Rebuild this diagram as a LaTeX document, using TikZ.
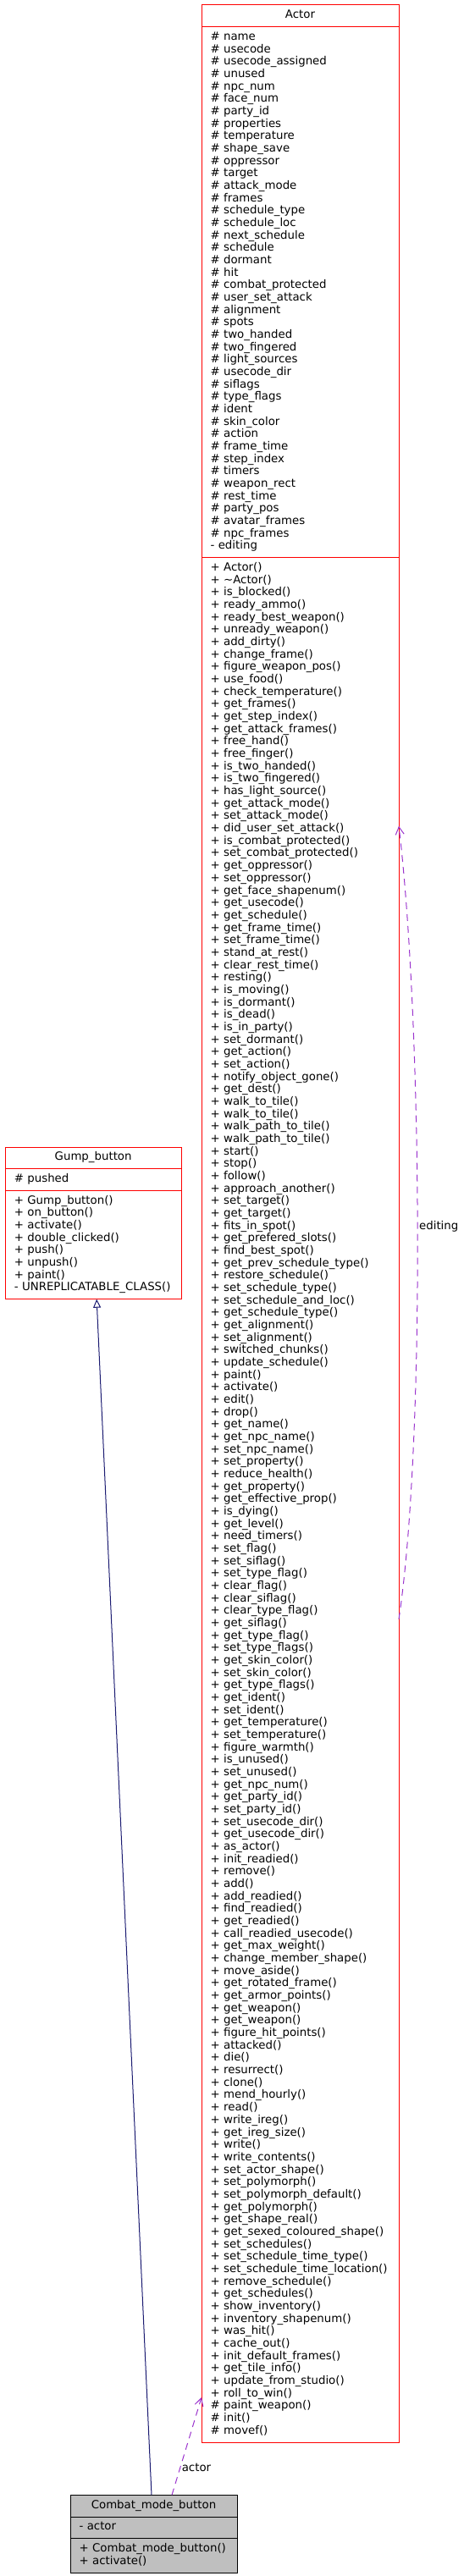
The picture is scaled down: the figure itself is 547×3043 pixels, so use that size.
\documentclass[tikz,border=0pt]{standalone}
\usepackage{fontspec}
\setmainfont{DejaVu Sans}
\usetikzlibrary{arrows.meta,positioning}
\definecolor{umlRed}{HTML}{FF0000}
\definecolor{inheritBlue}{HTML}{191970}
\definecolor{usagePurple}{HTML}{9A32CD}
\definecolor{focusGray}{HTML}{BFBFBF}
\tikzset{
  umlpart/.style={draw=umlRed,line width=1pt,fill=white,outer sep=0pt,
    inner xsep=10.5pt,inner ysep=5.5pt,align=left,
    font=\fontsize{13.33}{14.67}\selectfont},
  umltitle/.style={umlpart,align=center},
  focuspart/.style={umlpart,draw=black,fill=focusGray},
  focustitle/.style={focuspart,align=center},
  inherit/.style={draw=inheritBlue,line width=1pt,-{Triangle[open,length=10pt,width=9pt,fill=white]}},
  usage/.style={draw=usagePurple,line width=1pt,dash pattern=on 8pt off 6pt,
    -{Straight Barb[length=9pt,width=10pt]}},
  edgelabel/.style={text=black,inner sep=1.5pt,font=\fontsize{13.33}{14.67}\selectfont}
}

\begin{document}
\begin{tikzpicture}[x=1pt,y=-1pt]
  \useasboundingbox (0,0) rectangle (547,3043);

  % Actor
  \node[umltitle,text width=212pt,anchor=north west] (actorT) at (238,6) {\strut Actor};
  \node[umlpart,text width=212pt,below=0pt of actorT] (actorA) {\strut\# name\\
\# usecode\\
\# usecode\_assigned\\
\# unused\\
\# npc\_num\\
\# face\_num\\
\# party\_id\\
\# properties\\
\# temperature\\
\# shape\_save\\
\# oppressor\\
\# target\\
\# attack\_mode\\
\# frames\\
\# schedule\_type\\
\# schedule\_loc\\
\# next\_schedule\\
\# schedule\\
\# dormant\\
\# hit\\
\# combat\_protected\\
\# user\_set\_attack\\
\# alignment\\
\# spots\\
\# two\_handed\\
\# two\_fingered\\
\# light\_sources\\
\# usecode\_dir\\
\# siflags\\
\# type\_flags\\
\# ident\\
\# skin\_color\\
\# action\\
\# frame\_time\\
\# step\_index\\
\# timers\\
\# weapon\_rect\\
\# rest\_time\\
\# party\_pos\\
\# avatar\_frames\\
\# npc\_frames\\
- editing\strut};
  \node[umlpart,text width=212pt,below=0pt of actorA] (actorM) {\strut + Actor()\\
+ \textasciitilde Actor()\\
+ is\_blocked()\\
+ ready\_ammo()\\
+ ready\_best\_weapon()\\
+ unready\_weapon()\\
+ add\_dirty()\\
+ change\_frame()\\
+ figure\_weapon\_pos()\\
+ use\_food()\\
+ check\_temperature()\\
+ get\_frames()\\
+ get\_step\_index()\\
+ get\_attack\_frames()\\
+ free\_hand()\\
+ free\_finger()\\
+ is\_two\_handed()\\
+ is\_two\_fingered()\\
+ has\_light\_source()\\
+ get\_attack\_mode()\\
+ set\_attack\_mode()\\
+ did\_user\_set\_attack()\\
+ is\_combat\_protected()\\
+ set\_combat\_protected()\\
+ get\_oppressor()\\
+ set\_oppressor()\\
+ get\_face\_shapenum()\\
+ get\_usecode()\\
+ get\_schedule()\\
+ get\_frame\_time()\\
+ set\_frame\_time()\\
+ stand\_at\_rest()\\
+ clear\_rest\_time()\\
+ resting()\\
+ is\_moving()\\
+ is\_dormant()\\
+ is\_dead()\\
+ is\_in\_party()\\
+ set\_dormant()\\
+ get\_action()\\
+ set\_action()\\
+ notify\_object\_gone()\\
+ get\_dest()\\
+ walk\_to\_tile()\\
+ walk\_to\_tile()\\
+ walk\_path\_to\_tile()\\
+ walk\_path\_to\_tile()\\
+ start()\\
+ stop()\\
+ follow()\\
+ approach\_another()\\
+ set\_target()\\
+ get\_target()\\
+ fits\_in\_spot()\\
+ get\_prefered\_slots()\\
+ find\_best\_spot()\\
+ get\_prev\_schedule\_type()\\
+ restore\_schedule()\\
+ set\_schedule\_type()\\
+ set\_schedule\_and\_loc()\\
+ get\_schedule\_type()\\
+ get\_alignment()\\
+ set\_alignment()\\
+ switched\_chunks()\\
+ update\_schedule()\\
+ paint()\\
+ activate()\\
+ edit()\\
+ drop()\\
+ get\_name()\\
+ get\_npc\_name()\\
+ set\_npc\_name()\\
+ set\_property()\\
+ reduce\_health()\\
+ get\_property()\\
+ get\_effective\_prop()\\
+ is\_dying()\\
+ get\_level()\\
+ need\_timers()\\
+ set\_flag()\\
+ set\_siflag()\\
+ set\_type\_flag()\\
+ clear\_flag()\\
+ clear\_siflag()\\
+ clear\_type\_flag()\\
+ get\_siflag()\\
+ get\_type\_flag()\\
+ set\_type\_flags()\\
+ get\_skin\_color()\\
+ set\_skin\_color()\\
+ get\_type\_flags()\\
+ get\_ident()\\
+ set\_ident()\\
+ get\_temperature()\\
+ set\_temperature()\\
+ figure\_warmth()\\
+ is\_unused()\\
+ set\_unused()\\
+ get\_npc\_num()\\
+ get\_party\_id()\\
+ set\_party\_id()\\
+ set\_usecode\_dir()\\
+ get\_usecode\_dir()\\
+ as\_actor()\\
+ init\_readied()\\
+ remove()\\
+ add()\\
+ add\_readied()\\
+ find\_readied()\\
+ get\_readied()\\
+ call\_readied\_usecode()\\
+ get\_max\_weight()\\
+ change\_member\_shape()\\
+ move\_aside()\\
+ get\_rotated\_frame()\\
+ get\_armor\_points()\\
+ get\_weapon()\\
+ get\_weapon()\\
+ figure\_hit\_points()\\
+ attacked()\\
+ die()\\
+ resurrect()\\
+ clone()\\
+ mend\_hourly()\\
+ read()\\
+ write\_ireg()\\
+ get\_ireg\_size()\\
+ write()\\
+ write\_contents()\\
+ set\_actor\_shape()\\
+ set\_polymorph()\\
+ set\_polymorph\_default()\\
+ get\_polymorph()\\
+ get\_shape\_real()\\
+ get\_sexed\_coloured\_shape()\\
+ set\_schedules()\\
+~set\_schedule\_time\_type()\\
+~set\_schedule\_time\_location()\\
+ remove\_schedule()\\
+ get\_schedules()\\
+ show\_inventory()\\
+ inventory\_shapenum()\\
+ was\_hit()\\
+ cache\_out()\\
+ init\_default\_frames()\\
+ get\_tile\_info()\\
+ update\_from\_studio()\\
+ roll\_to\_win()\\
\# paint\_weapon()\\
\# init()\\
\# movef()\strut};

  % Gump_button
  \node[umltitle,text width=186.7pt,anchor=north west] (gumpT) at (6.3,1355) {\strut Gump\_button};
  \node[umlpart,text width=186.7pt,below=0pt of gumpT] (gumpA) {\strut\# pushed\strut};
  \node[umlpart,text width=186.7pt,below=0pt of gumpA] (gumpM) {\strut + Gump\_button()\\
+ on\_button()\\
+ activate()\\
+ double\_clicked()\\
+ push()\\
+ unpush()\\
+ paint()\\
-~UNREPLICATABLE\_CLASS()\strut};

  % Combat_mode_button
  \node[focustitle,text width=176pt,anchor=north west] (cmbT) at (83,2947.3) {\strut Combat\_mode\_button};
  \node[focuspart,text width=176pt,below=0pt of cmbT] (cmbA) {\strut - actor\strut};
  \node[focuspart,text width=176pt,below=0pt of cmbA] (cmbM) {\strut +~Combat\_mode\_button()\\
+ activate()\strut};

  \draw[inherit] ([xshift=-2.5pt]cmbT.north) -- ([xshift=4pt]gumpM.south);
  \draw[usage] ([xshift=21.5pt]cmbT.north) -- node[edgelabel,right,pos=0.28] {actor} ([yshift=53pt]actorM.south west);
  \draw[usage] ([yshift=-1254pt]actorM.north east) .. controls +(32,-213) and +(27,224) .. node[edgelabel,right,pos=0.5] {editing} ([yshift=-317pt]actorM.north east);
\end{tikzpicture}
\end{document}
